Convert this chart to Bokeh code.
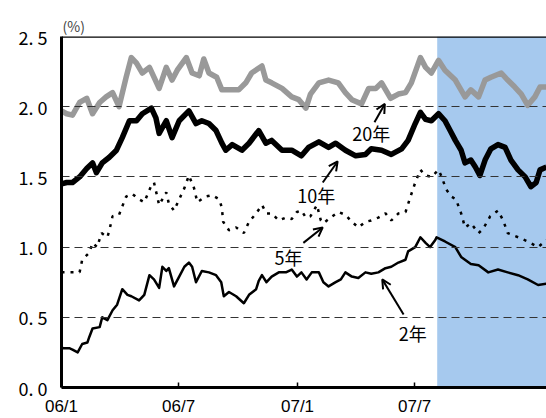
from bokeh.plotting import figure
from bokeh.models import (FixedTicker, Span, BoxAnnotation, Label, Arrow, OpenHead, Range1d)
from bokeh.embed import file_html
from bokeh.resources import INLINE

FONT = "Noto Sans CJK JP"

# x values: days since 2006-01-01
x_tick_days = [0, 181, 365, 546]
x_tick_labels = ["06/1", "06/7", "07/1", "07/7"]
y_ticks = [0.0, 0.5, 1.0, 1.5, 2.0, 2.5]
y_tick_labels = ["0. 0", "0. 5", "1. 0", "1. 5", "2. 0", "2. 5"]
shade_start_day = 581

d20 = [0, 8, 17, 28, 39, 48, 59, 69, 79, 89, 100, 108, 116, 125, 136, 143, 151, 162, 171, 179,
       193, 202, 213, 220, 228, 240, 248, 259, 274, 285, 294, 310, 316, 325, 341, 356, 367, 378,
       385, 398, 413, 428, 439, 449, 464, 475, 486, 495, 509, 521, 532, 541, 555, 563, 572, 583,
       593, 609, 624, 633, 645, 655, 664, 680, 690, 701, 711, 721, 732, 740, 750]
y20 = [1.97, 1.95, 1.94, 2.03, 2.06, 1.95, 2.03, 2.07, 2.10, 2.00, 2.21, 2.35, 2.31, 2.24, 2.28,
       2.21, 2.13, 2.28, 2.19, 2.26, 2.35, 2.24, 2.22, 2.34, 2.24, 2.21, 2.12, 2.12, 2.12, 2.17,
       2.24, 2.29, 2.19, 2.17, 2.13, 2.07, 2.05, 1.99, 2.09, 2.17, 2.19, 2.17, 2.10, 2.05, 2.02,
       2.13, 2.13, 2.17, 2.06, 2.09, 2.10, 2.17, 2.35, 2.28, 2.24, 2.33, 2.26, 2.19, 2.07, 2.12,
       2.07, 2.19, 2.21, 2.24, 2.19, 2.14, 2.09, 2.01, 2.07, 2.14, 2.14]

d10 = [0, 8, 17, 28, 39, 48, 54, 63, 74, 85, 94, 105, 116, 125, 139, 146, 151, 162, 171, 182,
       197, 208, 217, 228, 239, 248, 254, 264, 279, 290, 305, 316, 325, 341, 356, 371, 382, 398,
       413, 424, 439, 455, 470, 479, 495, 510, 526, 536, 547, 555, 563, 572, 583, 593, 601, 609,
       618, 624, 633, 640, 647, 655, 664, 675, 686, 695, 706, 717, 726, 734, 740, 750]
y10 = [1.45, 1.46, 1.46, 1.50, 1.56, 1.60, 1.53, 1.60, 1.64, 1.69, 1.78, 1.90, 1.90, 1.95, 1.99,
       1.92, 1.81, 1.90, 1.78, 1.90, 1.97, 1.88, 1.90, 1.88, 1.83, 1.74, 1.69, 1.73, 1.69, 1.74,
       1.83, 1.74, 1.76, 1.69, 1.69, 1.65, 1.71, 1.75, 1.71, 1.74, 1.69, 1.65, 1.66, 1.70, 1.69,
       1.66, 1.70, 1.76, 1.88, 1.96, 1.91, 1.90, 1.95, 1.90, 1.83, 1.76, 1.69, 1.60, 1.62, 1.57,
       1.51, 1.62, 1.70, 1.73, 1.71, 1.62, 1.55, 1.50, 1.43, 1.46, 1.55, 1.57]

d5 = [0, 8, 17, 28, 32, 43, 48, 55, 62, 71, 74, 79, 89, 94, 100, 109, 120, 128, 139, 143, 151,
      162, 166, 174, 182, 190, 197, 205, 210, 223, 233, 244, 248, 250, 259, 270, 282, 290, 301,
      310, 317, 325, 336, 347, 356, 364, 371, 378, 385, 395, 401, 405, 416, 428, 439, 449, 459,
      470, 479, 490, 501, 510, 521, 532, 539, 547, 555, 563, 572, 583, 587, 595, 603, 610, 618,
      624, 633, 645, 652, 663, 675, 683, 690, 706, 721, 737, 750]
y5 = [0.82, 0.82, 0.82, 0.82, 0.91, 0.96, 1.03, 1.00, 1.10, 1.07, 1.12, 1.22, 1.23, 1.29, 1.36,
      1.38, 1.34, 1.32, 1.44, 1.46, 1.30, 1.39, 1.31, 1.26, 1.34, 1.42, 1.51, 1.42, 1.32, 1.36,
      1.37, 1.34, 1.28, 1.18, 1.12, 1.14, 1.10, 1.18, 1.24, 1.30, 1.24, 1.24, 1.19, 1.21, 1.20,
      1.25, 1.26, 1.21, 1.22, 1.30, 1.19, 1.17, 1.21, 1.25, 1.23, 1.18, 1.14, 1.18, 1.19, 1.21,
      1.24, 1.19, 1.24, 1.25, 1.35, 1.46, 1.55, 1.51, 1.50, 1.55, 1.51, 1.41, 1.36, 1.34, 1.24,
      1.14, 1.17, 1.10, 1.13, 1.22, 1.26, 1.19, 1.10, 1.07, 1.04, 1.00, 1.05]

d2 = [0, 2, 12, 17, 25, 32, 40, 43, 48, 59, 63, 71, 79, 86, 94, 102, 108, 120, 128, 136, 143,
      151, 156, 162, 166, 174, 182, 190, 197, 202, 208, 217, 228, 239, 247, 251, 259, 270, 282,
      290, 301, 305, 310, 317, 325, 336, 347, 356, 364, 371, 379, 387, 398, 405, 413, 424, 432,
      439, 449, 459, 470, 479, 490, 501, 510, 521, 532, 536, 547, 555, 563, 570, 578, 580, 593,
      609, 618, 633, 645, 660, 675, 690, 706, 721, 737, 750]
y2 = [0.29, 0.28, 0.28, 0.27, 0.25, 0.31, 0.32, 0.36, 0.42, 0.43, 0.50, 0.48, 0.55, 0.59, 0.70,
      0.66, 0.65, 0.62, 0.66, 0.80, 0.77, 0.71, 0.86, 0.83, 0.85, 0.72, 0.79, 0.86, 0.89, 0.86,
      0.75, 0.83, 0.82, 0.80, 0.75, 0.65, 0.68, 0.65, 0.60, 0.66, 0.70, 0.76, 0.80, 0.75, 0.79,
      0.82, 0.82, 0.84, 0.79, 0.82, 0.77, 0.82, 0.82, 0.75, 0.72, 0.75, 0.77, 0.82, 0.79, 0.78,
      0.82, 0.81, 0.82, 0.85, 0.86, 0.89, 0.91, 0.97, 1.00, 1.07, 1.03, 1.00, 1.05, 1.07, 1.04,
      1.00, 0.93, 0.88, 0.87, 0.82, 0.84, 0.82, 0.80, 0.77, 0.73, 0.74]

series_labels = ["20年", "10年", "5年", "2年"]
label_pos = [(479, 1.81), (394, 1.37), (351, 0.93), (543, 0.39)]
arrow_pos = [(484, 1.89, 500, 2.02), (404, 1.46, 427, 1.61),
             (374, 1.03, 404, 1.14), (529, 0.52, 496, 0.77)]

p = figure(width=546, height=418, x_range=Range1d(0, 750), y_range=Range1d(0, 2.5),
           output_backend="svg", toolbar_location=None,
           min_border_left=61, min_border_right=0, min_border_top=36, min_border_bottom=30)
p.outline_line_color = None
p.background_fill_color = "white"
p.border_fill_color = "white"

p.title.text = "(%)"
p.title.align = "left"
p.title.text_font = FONT
p.title.text_font_size = "14px"
p.title.text_font_style = "normal"
p.title.offset = 1
p.title.standoff = 2

shade = BoxAnnotation(left=shade_start_day, fill_color="#a6c9ee", fill_alpha=1.0,
                      line_color=None, level="underlay")
p.add_layout(shade)

p.xgrid.visible = False
p.ygrid.ticker = FixedTicker(ticks=y_ticks[1:-1])
p.ygrid.grid_line_color = "#333333"
p.ygrid.grid_line_dash = "8 5"
p.ygrid.grid_line_width = 1
p.ygrid.level = "glyph"

# axes
p.xaxis.ticker = FixedTicker(ticks=x_tick_days)
p.xaxis.major_label_overrides = {d: s for d, s in zip(x_tick_days, x_tick_labels)}
p.xaxis.major_tick_in = 5
p.xaxis.major_tick_out = 0
p.xaxis.major_tick_line_width = 1.5
p.xaxis.minor_tick_line_color = None
p.xaxis.major_label_text_font = "Liberation Sans"
p.xaxis.major_label_text_font_size = "17px"
p.xaxis.major_label_text_color = "black"
p.xaxis.major_label_standoff = 9
p.xaxis.axis_line_width = 3
p.xaxis.axis_line_color = "black"

p.yaxis.ticker = FixedTicker(ticks=y_ticks)
p.yaxis.major_label_overrides = {v: s for v, s in zip(y_ticks, y_tick_labels)}
p.yaxis.major_tick_in = 0
p.yaxis.major_tick_out = 0
p.yaxis.minor_tick_line_color = None
p.yaxis.major_label_text_font = FONT
p.yaxis.major_label_text_font_size = "18px"
p.yaxis.major_label_text_color = "black"
p.yaxis.major_label_standoff = 14
p.yaxis.axis_line_width = 3
p.yaxis.axis_line_color = "black"

p.add_layout(Span(location=2.5, dimension="width", line_color="black", line_width=2.5))

# series
p.line(d20, y20, line_color="#999999", line_width=5.5, line_join="round")
p.line(d10, y10, line_color="black", line_width=5.5, line_join="round")
p.line(d5, y5, line_color="black", line_width=2.5, line_dash="3 6")
p.line(d2, y2, line_color="black", line_width=2.5, line_join="round")

# labels & arrows
for txt, (lx, ly) in zip(series_labels, label_pos):
    p.add_layout(Label(x=lx, y=ly, text=txt, text_align="center", text_baseline="middle",
                       text_font=FONT, text_font_size="18px", text_color="black"))
for (x0, y0, x1, y1) in arrow_pos:
    p.add_layout(Arrow(x_start=x0, y_start=y0, x_end=x1, y_end=y1, line_width=2,
                       line_color="black",
                       end=OpenHead(size=9, line_width=2, line_color="black")))

open("out.html", "w").write(file_html(p, INLINE))
